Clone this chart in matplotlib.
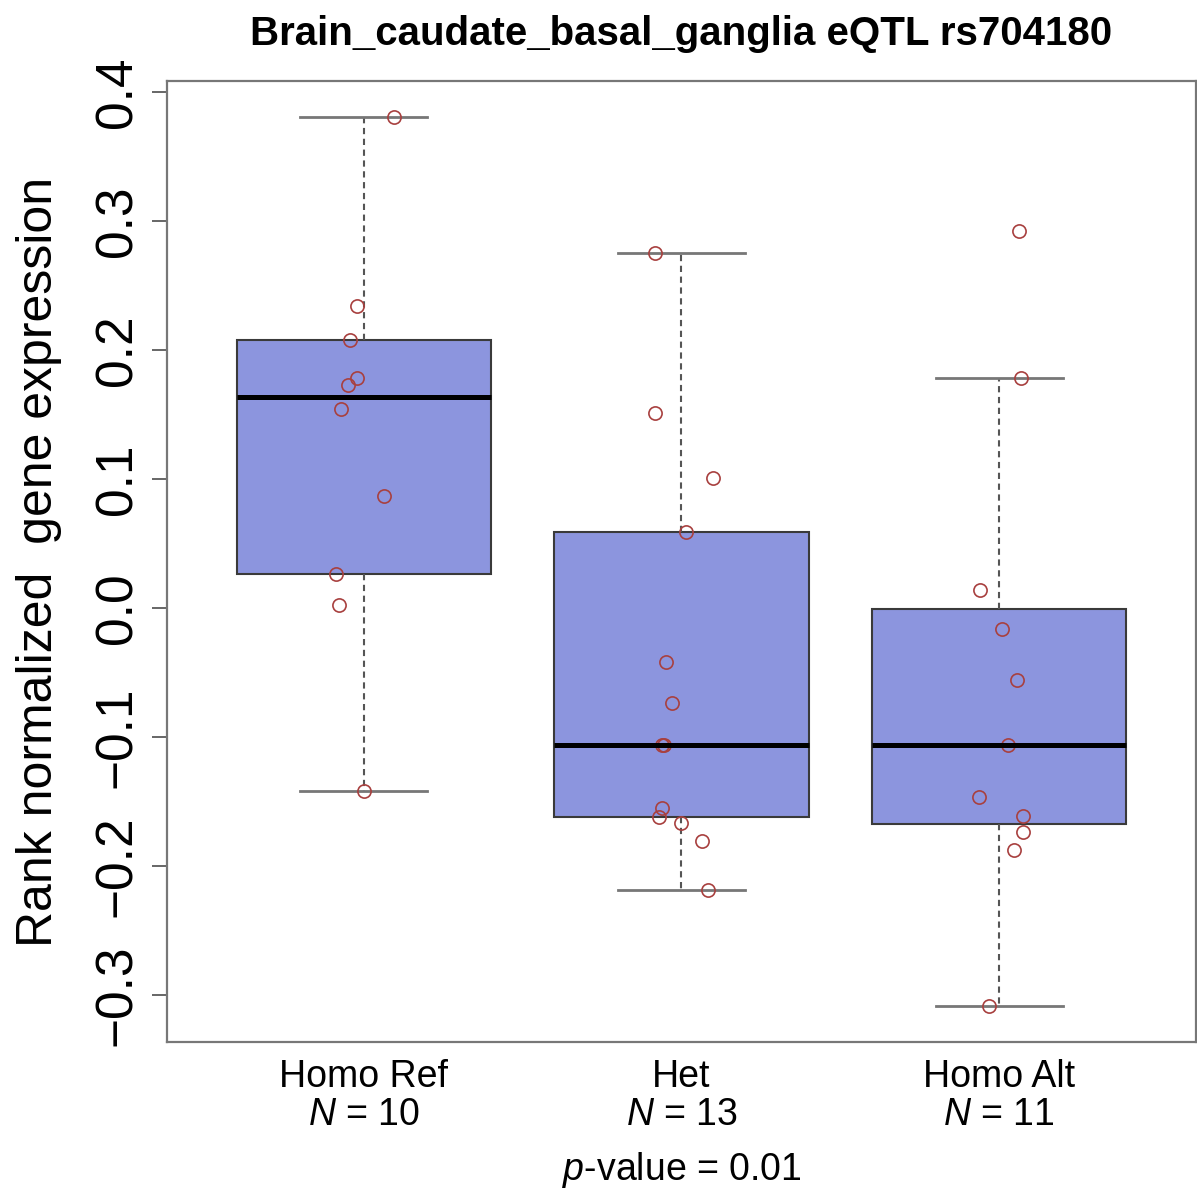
import numpy as np
import matplotlib
matplotlib.use("Agg")
import matplotlib.pyplot as plt
from matplotlib import font_manager

# ---------------- data ----------------
categories = ["Homo Ref", "Het", "Homo Alt"]
n_labels = ["10", "13", "11"]
homo_ref = [0.381, 0.234, 0.208, 0.178, 0.173, 0.154, 0.087, 0.026, 0.002, -0.142]
het = [0.275, 0.151, 0.101, 0.059, -0.042, -0.074, -0.106, -0.106, -0.155, -0.162,
       -0.167, -0.181, -0.219]
homo_alt = [0.292, 0.178, 0.014, -0.016, -0.056, -0.106, -0.147, -0.161, -0.174,
            -0.188, -0.309]
# horizontal jitter of each point (in category units)
jit_ref = [0.094, -0.022, -0.044, -0.022, -0.050, -0.072, 0.063, -0.088, -0.078, 0.0]
jit_het = [-0.082, -0.085, 0.100, 0.013, -0.050, -0.031, -0.060, -0.056, -0.060,
           -0.072, 0.0, 0.063, 0.082]
jit_alt = [0.063, 0.069, -0.060, 0.009, 0.056, 0.028, -0.063, 0.075, 0.075, 0.047, -0.031]
title = "Brain_caudate_basal_ganglia eQTL rs704180"
ylabel = "Rank normalized  gene expression"
pvalue = "0.01"
yticks = [-0.3, -0.2, -0.1, 0.0, 0.1, 0.2, 0.3, 0.4]

groups = [homo_ref, het, homo_alt]
jitters = [jit_ref, jit_het, jit_alt]

# ---------------- fonts ----------------
names = {f.name for f in font_manager.fontManager.ttflist}
narrow = "Liberation Sans Narrow" if "Liberation Sans Narrow" in names else "Liberation Sans"
plt.rcParams["font.family"] = [narrow, "DejaVu Sans"]
plt.rcParams["mathtext.fontset"] = "custom"
plt.rcParams["mathtext.rm"] = narrow
plt.rcParams["mathtext.it"] = narrow + ":italic"


def fivenum(x):
    x = np.sort(np.asarray(x, float))
    n = len(x)
    n4 = np.floor((n + 3) / 2) / 2
    d = np.array([1, n4, (n + 1) / 2, n + 1 - n4, n]) - 1
    return 0.5 * (x[np.floor(d).astype(int)] + x[np.ceil(d).astype(int)])


stats = []
for g, lab in zip(groups, categories):
    mn, q1, med, q3, mx = fivenum(g)
    iqr = q3 - q1
    arr = np.asarray(g)
    hi = arr[arr <= q3 + 1.5 * iqr].max()
    lo = arr[arr >= q1 - 1.5 * iqr].min()
    stats.append(dict(med=med, q1=q1, q3=q3, whislo=lo, whishi=hi, fliers=[], label=lab))

fig = plt.figure(figsize=(11.97, 11.92), dpi=100)
ax = fig.add_axes([167 / 1197, 1 - 1042 / 1192, (1196 - 167) / 1197, (1042 - 81) / 1192])

pos = np.arange(1, len(categories) + 1)
ax.bxp(stats, positions=pos, widths=0.8, patch_artist=True, showfliers=False,
       boxprops=dict(facecolor="#8C95DE", edgecolor="#3a3a3a", linewidth=1.5),
       medianprops=dict(color="black", linewidth=3.6),
       whiskerprops=dict(color="#555555", linewidth=1.5, linestyle=(0, (3, 2.2))),
       capprops=dict(color="#777777", linewidth=2.0),
       capwidths=0.4)

for p, g, j in zip(pos, groups, jitters):
    ax.plot(p + np.asarray(j), g, linestyle="none", marker="o", markersize=9.5,
            markerfacecolor="none", markeredgecolor="#A8403F", markeredgewidth=1.2)

allv = np.concatenate([np.asarray(g) for g in groups])
rng = allv.max() - allv.min()
ax.set_ylim(allv.min() - 0.04 * rng, allv.max() + 0.04 * rng)
ax.set_xlim(0.5 - 0.04 * 3, 3.5 + 0.04 * 3)

ax.set_yticks(yticks)
ax.set_yticklabels([("%.1f" % v).replace("-", "\u2212") for v in yticks], fontsize=37,
                   rotation=90, va="center")
ax.tick_params(axis="y", length=11, width=1.4, color="#666666", pad=7)
ax.set_xticks(pos)
ax.set_xticklabels(categories, fontsize=27)
ax.tick_params(axis="x", length=0, pad=12)

for s in ax.spines.values():
    s.set_color("#777777")
    s.set_linewidth(1.6)

trans = ax.get_xaxis_transform()
for p, n in zip(pos, n_labels):
    ax.text(p, -0.076, r"$\it{N}$ = " + n, transform=trans, ha="center", va="center",
            fontsize=27)
ax.text(0.5, -0.133, r"$\it{p}$-value = " + pvalue, transform=ax.transAxes,
        ha="center", va="center", fontsize=27)

ax.set_ylabel(ylabel, fontsize=36, labelpad=22)
ax.set_title(title, fontsize=29, fontweight="bold", family=["Liberation Sans", "DejaVu Sans"],
             pad=26)

fig.savefig("out.png", dpi=100)
